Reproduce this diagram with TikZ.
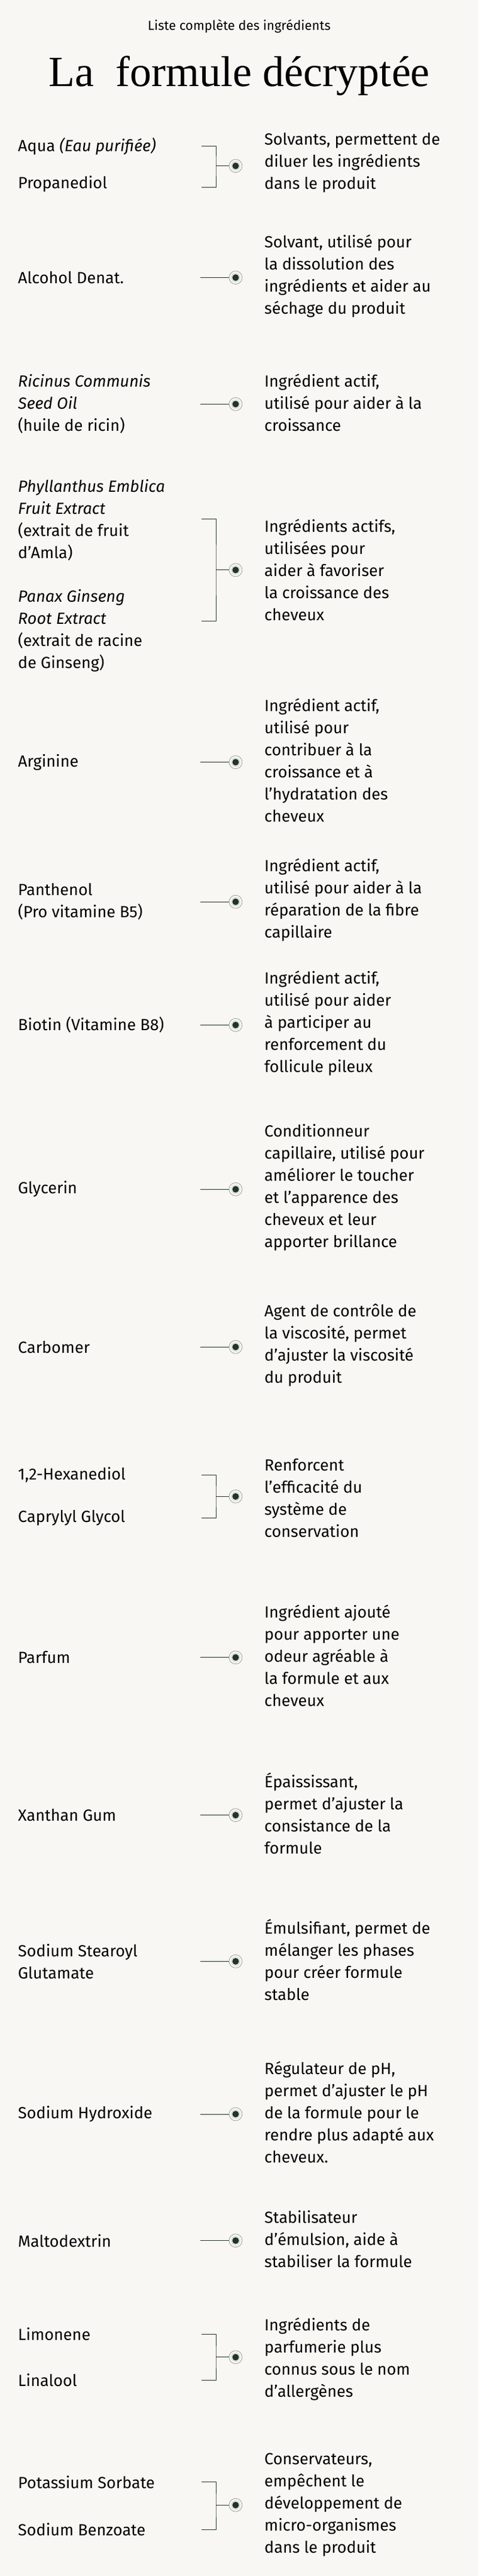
\documentclass[tikz,border=0pt]{standalone}
\usepackage{fontspec}
\setmainfont{Fira Sans}
\newfontfamily\titlefont{Liberation Serif}
\definecolor{bg}{HTML}{F8F7F3}
\definecolor{dk}{HTML}{1F3526}
\definecolor{rg}{HTML}{8A968C}
\tikzset{
 lt/.style={anchor=west,align=left,font=\fontsize{27}{37}\selectfont,inner sep=0pt,text=black},
 rt/.style={anchor=west,align=left,font=\fontsize{27}{37}\selectfont,inner sep=0pt,text=black},
 ringn/.style={circle,draw=rg,line width=0.7pt,fill=bg,minimum size=22pt,inner sep=0pt},
 con/.style={draw=dk,line width=1pt},
}
\newcommand\dotat[2]{\node[ringn] (D#1) at (394,#2) {};
 \fill[black!12] (D#1.center) circle (8pt);
 \fill[dk] (D#1.center) circle (5.5pt);}
\newcommand\single[4]{% name, y, left, right
 \node[lt] (L#1) at (30,#2) {#3};
 \dotat{#1}{#2}
 \node[rt] (R#1) at (442,#2-1) {#4};
 \coordinate (S#1) at (335,#2);
 \draw[con] (S#1) -- (D#1.west);}
\newcommand\bracketat[4]{% name, ytop, ybot, ydot
 \dotat{#1}{#4}
 \coordinate (T#1) at (337,#2);
 \coordinate (B#1) at (337,#3);
 \coordinate (M#1) at (361,#4);
 \draw[con] (T#1) -| (M#1) |- (B#1);
 \draw[con] (M#1) -- (D#1.west);}
\begin{document}
\begin{tikzpicture}[x=1pt,y=-2.749pt]
\fill[bg] (0,0) rectangle (800,1568.2);
\node[font=\fontsize{22}{26}\selectfont] (sub) at (400,16) {Liste complète des ingrédients};
\node[font=\titlefont\fontsize{72}{78}\selectfont] (title) at (400,46) {La\ \ formule décryptée};
% 1
\node[lt] (La) at (30,89) {Aqua \textit{(Eau purifiée)}};
\node[lt] (Lb) at (30,112) {Propanediol};
\bracketat{a}{89}{114}{101}
\node[rt] (Ra) at (442,99) {Solvants, permettent de\\diluer les ingrédients\\dans le produit};
% 2
\single{b}{169}{Alcohol Denat.}{Solvant, utilisé pour\\la dissolution des\\ingrédients et aider au\\séchage du produit}
\single{c}{246}{\textit{Ricinus Communis}\\\textit{Seed Oil}\\(huile de ricin)}{Ingrédient actif,\\utilisé pour aider à la\\croissance}
% phyllanthus
\node[lt] (Lp1) at (30,316.5) {\textit{Phyllanthus Emblica}\\\textit{Fruit Extract}\\(extrait de fruit\\d'Amla)};
\node[lt] (Lp2) at (30,384) {\textit{Panax Ginseng}\\\textit{Root Extract}\\(extrait de racine\\de Ginseng)};
\bracketat{p}{316}{378}{347}
\node[rt] (Rp) at (442,347) {Ingrédients actifs,\\utilisées pour\\aider à favoriser\\la croissance des\\cheveux};
\single{d}{464}{Arginine}{Ingrédient actif,\\utilisé pour\\contribuer à la\\croissance et à\\l'hydratation des\\cheveux}
\single{e}{549}{Panthenol\\(Pro vitamine B5)}{Ingrédient actif,\\utilisé pour aider à la\\réparation de la fibre\\capillaire}
\single{f}{624}{Biotin (Vitamine B8)}{Ingrédient actif,\\utilisé pour aider\\à participer au\\renforcement du\\follicule pileux}
\single{g}{724}{Glycerin}{Conditionneur\\capillaire, utilisé pour\\améliorer le toucher\\et l'apparence des\\cheveux et leur\\apporter brillance}
\single{h}{820}{Carbomer}{Agent de contrôle de\\la viscosité, permet\\d'ajuster la viscosité\\du produit}
% hexanediol
\node[lt] (Li1) at (30,898) {1,2-Hexanediol};
\node[lt] (Li2) at (30,924) {Caprylyl Glycol};
\bracketat{i}{898}{924}{911}
\node[rt] (Ri) at (442,912) {Renforcent\\l'efficacité du\\système de\\conservation};
\single{j}{1009}{Parfum}{Ingrédient ajouté\\pour apporter une\\odeur agréable à\\la formule et aux\\cheveux}
\single{k}{1105}{Xanthan Gum}{Épaississant,\\permet d'ajuster la\\consistance de la\\formule}
\single{l}{1194}{Sodium Stearoyl\\Glutamate}{Émulsifiant, permet de\\mélanger les phases\\pour créer formule\\stable}
\single{m}{1287}{Sodium Hydroxide}{Régulateur de pH,\\permet d'ajuster le pH\\de la formule pour le\\rendre plus adapté aux\\cheveux.}
\single{n}{1364}{Maltodextrin}{Stabilisateur\\d’émulsion, aide à\\stabiliser la formule}
% limonene
\node[lt] (Lo1) at (30,1421) {Limonene};
\node[lt] (Lo2) at (30,1449) {Linalool};
\bracketat{o}{1421}{1449}{1435}
\node[rt] (Ro) at (442,1436) {Ingrédients de\\parfumerie plus\\connus sous le nom\\d'allergènes};
% potassium
\node[lt] (Lq1) at (30,1511) {Potassium Sorbate};
\node[lt] (Lq2) at (30,1540) {Sodium Benzoate};
\bracketat{q}{1511}{1540}{1525}
\node[rt] (Rq) at (442,1525) {Conservateurs,\\empêchent le\\développement de\\micro-organismes\\dans le produit};
\end{tikzpicture}
\end{document}
